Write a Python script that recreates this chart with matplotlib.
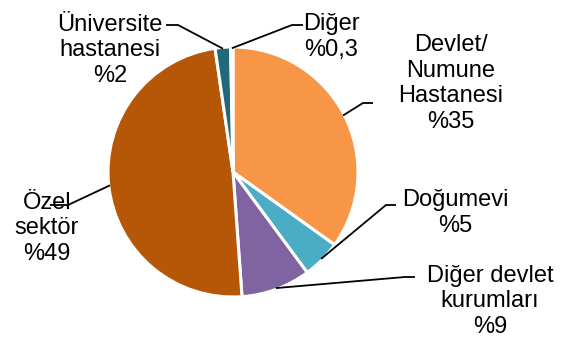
import numpy as np
import matplotlib
matplotlib.use("Agg")
import matplotlib.pyplot as plt

# slices, clockwise from 12 o'clock
labels = ["Devlet/\nNumune\nHastanesi", "Doğumevi", "Diğer devlet\nkurumları",
          "Özel\nsektör", "Üniversite\nhastanesi", "Diğer"]
pct_text = ["%35", "%5", "%9", "%49", "%2", "%0,3"]
values = [35, 5, 9, 49, 2, 0.3]
colors = ["#F79646", "#4BACC6", "#8064A2", "#B65708", "#23687A", "#7F6A8E"]

W, H = 567, 340
CX, CY, R = 233, 172, 125

# label layout in pixel coords: text centre x, last baseline y, elbow, line end
text_pos = [(451, 128), (455, 232), (490, 333), (47, 260), (110, 82), (331, 56)]
elbows = [(363, 103), (386, 205), (405, 277), (68, 205), (178, 25), (292, 25)]
line_ends = [(373, 103), (396, 205), (415, 277), (50, 205), (166, 25), (303, 25)]

plt.rcParams["font.family"] = ["Liberation Sans", "DejaVu Sans"]

fig = plt.figure(figsize=(W / 100, H / 100), dpi=100)
ax = fig.add_axes([0, 0, 1, 1])

ax.pie(values, colors=colors, startangle=90, counterclock=False,
       center=(CX, H - CY), radius=R,
       wedgeprops=dict(edgecolor="white", linewidth=2.2))

ax.set_xlim(0, W)
ax.set_ylim(0, H)
ax.set_aspect("equal")
ax.axis("off")

total = sum(values)
start = 90.0
for i, v in enumerate(values):
    span = v / total * 360
    mid = np.deg2rad(start - span / 2)
    start -= span
    ax0 = CX + R * 0.99 * np.cos(mid)
    ay0 = (H - CY) + R * 0.99 * np.sin(mid)
    ex, ey = elbows[i]
    lx, ly = line_ends[i]
    ax.plot([ax0, ex, lx], [ay0, H - ey, H - ly], color="black", lw=1.3,
            solid_capstyle="butt", zorder=5)
    tx, ty = text_pos[i]
    ax.text(tx, H - ty, labels[i] + "\n" + pct_text[i], ha="center", va="baseline",
            fontsize=17, linespacing=1.22, multialignment="center")

fig.savefig("out.png", dpi=100)
